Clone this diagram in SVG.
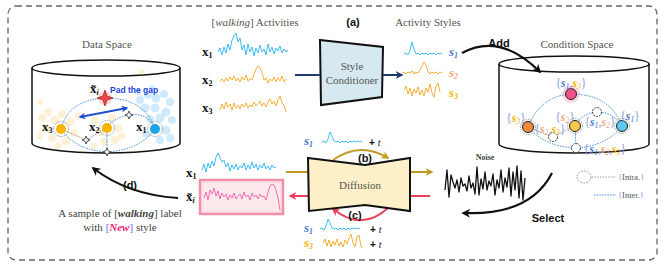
<svg xmlns="http://www.w3.org/2000/svg" width="665" height="267" viewBox="0 0 665 267">
<defs>
<style>
.frame{fill:none;stroke:#666;stroke-width:1.3;stroke-dasharray:6 4}
.cyl{fill:none;stroke:#111;stroke-width:1.5}
.ttl{font-family:"Liberation Serif",serif;font-size:11px;fill:#555}
.bx{font-family:"Liberation Serif",serif;font-size:13px;font-weight:bold;fill:#111}
.sub{font-size:8px}
.sa{font-family:"Liberation Sans",Arial,sans-serif;font-weight:bold;fill:#111}
.sl{font-family:"Liberation Serif",serif;font-style:italic;font-weight:bold;font-size:13px}
.cl{font-family:"Liberation Serif",serif;font-style:italic;font-size:11.5px}
.br{fill:#8a9be0;font-style:normal;font-weight:normal}
.c1{fill:#4a7bd0}.c2{fill:#f4a582}.c3{fill:#f5b300}
.sig{fill:none;stroke-width:0.9;stroke-linejoin:round}
.inter{fill:none;stroke:#3a8be0;stroke-width:1;stroke-dasharray:1.5 1.2}
.intra{fill:none;stroke:#999;stroke-width:1;stroke-dasharray:1.5 1.2}
.ring{fill:none;stroke:#888;stroke-width:0.8;stroke-dasharray:1.5 1}
.wn{fill:#fff;stroke:#222;stroke-width:0.9;stroke-dasharray:2 1}
.yd{fill:#f8c040;opacity:0.22}
.bd{fill:#40b0f0;opacity:0.25}
.lg{font-family:"Liberation Serif",serif;font-size:8.5px;fill:#555}
</style>
<marker id="mk" viewBox="0 0 10 10" refX="8" refY="5" markerWidth="9" markerHeight="9" markerUnits="userSpaceOnUse" orient="auto"><path d="M0,0 L10,5 L0,10 L3,5 z" fill="#111"/></marker>
<marker id="mn" viewBox="0 0 10 10" refX="8" refY="5" markerWidth="8" markerHeight="8" markerUnits="userSpaceOnUse" orient="auto"><path d="M0,0 L10,5 L0,10 L3,5 z" fill="#1f3a6e"/></marker>
<marker id="mg" viewBox="0 0 10 10" refX="8" refY="5" markerWidth="8" markerHeight="8" markerUnits="userSpaceOnUse" orient="auto"><path d="M0,0 L10,5 L0,10 L3,5 z" fill="#c09a22"/></marker>
<marker id="mr" viewBox="0 0 10 10" refX="8" refY="5" markerWidth="8" markerHeight="8" markerUnits="userSpaceOnUse" orient="auto"><path d="M0,0 L10,5 L0,10 L3,5 z" fill="#e8405a"/></marker>
<marker id="mb" viewBox="0 0 10 10" refX="8" refY="5" markerWidth="7" markerHeight="7" markerUnits="userSpaceOnUse" orient="auto-start-reverse"><path d="M0,0 L10,5 L0,10 L3,5 z" fill="#1f4fd0"/></marker>
<path id="dm" d="M0,-4 L1.2,-1.2 L4,0 L1.2,1.2 L0,4 L-1.2,1.2 L-4,0 L-1.2,-1.2 Z" fill="#fff" stroke="#222" stroke-width="0.8"/>
</defs>

<rect class="frame" x="8" y="6" width="649" height="254" rx="8"/>

<!-- Data Space -->
<g id="data-space">
<text class="ttl" x="107" y="48" text-anchor="middle">Data Space</text>
<ellipse class="cyl" cx="106" cy="68" rx="74" ry="8"/>
<path class="cyl" d="M32,68 L32,143 A74,10 0 0 0 180,143 L180,68"/>
<g>
<circle class="yd" cx="42" cy="118" r="4"/><circle class="yd" cx="48" cy="112" r="4"/><circle class="yd" cx="55" cy="120" r="4.5"/><circle class="yd" cx="46" cy="128" r="4"/><circle class="yd" cx="52" cy="138" r="4"/><circle class="yd" cx="62" cy="114" r="4"/><circle class="yd" cx="70" cy="122" r="4.5"/><circle class="yd" cx="74" cy="133" r="4"/><circle class="yd" cx="66" cy="141" r="4"/><circle class="yd" cx="58" cy="146" r="3.5"/><circle class="yd" cx="78" cy="116" r="3.5"/><circle class="yd" cx="40" cy="136" r="3.5"/><circle class="yd" cx="40" cy="102" r="3"/>
<circle class="yd" cx="95" cy="120" r="4"/><circle class="yd" cx="100" cy="132" r="4"/><circle class="yd" cx="112" cy="118" r="4"/><circle class="yd" cx="118" cy="128" r="4"/><circle class="yd" cx="115" cy="140" r="4"/><circle class="yd" cx="104" cy="142" r="4"/><circle class="yd" cx="94" cy="146" r="3.5"/><circle class="yd" cx="122" cy="136" r="3.5"/><circle class="yd" cx="142" cy="72" r="3"/>
<circle class="bd" cx="140" cy="100" r="4"/><circle class="bd" cx="148" cy="95" r="4"/><circle class="bd" cx="156" cy="98" r="4.5"/><circle class="bd" cx="164" cy="94" r="4"/><circle class="bd" cx="170" cy="102" r="4"/><circle class="bd" cx="145" cy="108" r="4.5"/><circle class="bd" cx="155" cy="108" r="4.5"/><circle class="bd" cx="166" cy="112" r="4.5"/><circle class="bd" cx="172" cy="120" r="4"/><circle class="bd" cx="160" cy="118" r="4.5"/><circle class="bd" cx="150" cy="119" r="4"/><circle class="bd" cx="166" cy="130" r="4.5"/><circle class="bd" cx="170" cy="138" r="4"/><circle class="bd" cx="160" cy="140" r="4"/><circle class="bd" cx="146" cy="134" r="3.5"/><circle class="bd" cx="152" cy="88" r="3"/><circle class="bd" cx="138" cy="92" r="3"/>
</g>
</g>

<g id="data-edges">
<path class="inter" d="M61,129 Q68,100 105,98 Q145,98 155,129"/>
<path class="inter" d="M61,129 Q75,150 107,152 Q140,150 155,129"/>
<path class="inter" d="M107,128 Q113,118 129,115 Q148,112 155,129"/>
<path class="intra" d="M61,129 L86,140 L107,128"/>
<path class="inter" d="M107,128 L107,152"/>
<path d="M80,117 L127,108" stroke="#1f4fd0" stroke-width="1.8" fill="none" marker-start="url(#mb)" marker-end="url(#mb)"/>
</g>

<g id="x3-node"><circle class="ring" cx="61" cy="129" r="7.5"/><circle cx="61" cy="129" r="5" fill="#f8b500"/><text class="bx" x="42" y="131" font-size="11">x<tspan class="sub" dy="2">3</tspan></text></g>
<g id="x2-node"><circle class="ring" cx="107" cy="128" r="7.5"/><circle cx="107" cy="128" r="5" fill="#f8b500"/><text class="bx" x="89" y="131" font-size="11">x<tspan class="sub" dy="2">2</tspan></text></g>
<g id="x1-node"><circle class="ring" cx="155" cy="129" r="7.5"/><circle cx="155" cy="129" r="5" fill="#1aa3e8"/><text class="bx" x="136" y="131" font-size="11">x<tspan class="sub" dy="2">1</tspan></text></g>
<g id="xt-node"><circle cx="105" cy="98" r="7" fill="#f06060" opacity="0.25"/><path d="M105,90 L107,96 L113,98 L107,100 L105,106 L103,100 L97,98 L103,96 Z" fill="#ee4444" stroke="#a02020" stroke-width="0.7"/><text class="bx" x="90" y="93" font-size="11">x&#x303;<tspan class="sub" dy="2" font-style="italic">i</tspan></text><text class="sa" x="110" y="93" font-size="8.5" style="fill:#1f3fd8">Pad the gap</text></g>
<use href="#dm" x="129" y="115"/><use href="#dm" x="86" y="140"/><use href="#dm" x="107" y="152"/>

<!-- Activities -->
<g id="activities">
<text class="ttl" x="255" y="26" text-anchor="middle">[<tspan font-style="italic">walking</tspan>] Activities</text>
<text class="bx" x="202" y="56">x<tspan class="sub" dy="2">1</tspan></text>
<text class="bx" x="202" y="84">x<tspan class="sub" dy="2">2</tspan></text>
<text class="bx" x="202" y="112">x<tspan class="sub" dy="2">3</tspan></text>
<polyline class="sig" stroke="#29b6f0" points="218,52 220,48 222,55 224,47 226,53 228,44 230,50 232,40 234,36 236,33 238,42 240,38 242,50 244,45 246,55 248,44 250,52 252,47 254,56 256,48 258,53 260,45 262,52 264,49 266,55 268,44 270,52 272,47 274,54 276,48 278,51 280,46 282,53 284,49 286,52 288,50"/>
<polyline class="sig" stroke="#f5a623" points="220,81 222,79 224,82 226,78 228,81 230,77 232,80 234,76 236,81 238,78 240,82 242,77 244,80 246,75 248,81 250,79 252,80 254,74 256,69 258,66 260,68 262,73 264,80 266,78 268,83 270,79 272,81 274,77 276,82 278,78 280,81 282,76 284,82 286,79"/>
<polyline class="sig" stroke="#f5a623" points="220,110 222,104 224,109 226,102 228,107 230,104 232,110 234,103 236,108 238,105 240,109 242,104 244,107 246,103 248,108 250,105 252,107 254,102 256,106 258,104 260,101 262,106 264,103 266,107 268,102 270,99 272,104 274,101 276,106 278,100 280,96 282,103 284,105 286,112"/>
</g>

<g id="style-conditioner">
<text class="sa" x="353" y="26" font-size="11" text-anchor="middle">(a)</text>
<polygon points="320,40 383,47 382,97 321,105" fill="#d6e9f0" stroke="#111" stroke-width="2"/>
<text class="ttl" x="352" y="70" text-anchor="middle" font-size="10.5">Style</text>
<text class="ttl" x="352" y="84" text-anchor="middle" font-size="10.5">Conditioner</text>
</g>

<g id="activity-styles">
<text class="ttl" x="428" y="26" text-anchor="middle">Activity Styles</text>
<polyline class="sig" stroke="#29b6f0" points="404,54 406,53 408,55 410,51 412,42 414,49 416,54 418,53 420,55 422,53 424,54 426,53 428,55 430,53 432,54 434,53 436,55 438,53 440,54 442,53"/>
<polyline class="sig" stroke="#f5a623" points="402,73 404,72 406,74 408,72 410,73 412,71 414,74 416,72 418,73 420,70 422,66 424,62 426,65 428,72 430,74 432,72 434,73 436,72 438,74 440,72 442,73"/>
<polyline class="sig" stroke="#f5a623" points="404,90 406,86 408,94 410,88 412,96 414,89 416,93 418,87 420,95 422,90 424,96 426,88 428,92 430,84 432,93 434,97 436,86 438,83 440,92"/>
<text class="sl c1" x="449" y="56">s<tspan class="sub" dy="2">1</tspan></text>
<text class="sl c2" x="449" y="77">s<tspan class="sub" dy="2">2</tspan></text>
<text class="sl c3" x="449" y="97">s<tspan class="sub" dy="2">3</tspan></text>
</g>

<!-- Condition Space -->
<g id="condition-space">
<text class="ttl" x="577" y="48" text-anchor="middle">Condition Space</text>
<ellipse class="cyl" cx="574" cy="64" rx="75" ry="8"/>
<path class="cyl" d="M499,64 L499,144 A75,9 0 0 0 649,144 L649,64"/>
</g>

<g id="cond-edges">
<path class="inter" d="M528,127 Q540,96 571,94 Q610,94 622,126"/>
<path class="inter" d="M528,127 Q545,147 576,148 Q607,146 622,126"/>
<path class="inter" d="M575,126 Q582,113 597,112 Q613,112 622,126"/>
<path class="intra" d="M528,127 L553,137 L575,126"/>
<path class="inter" d="M575,126 L576,148"/>
</g>

<g id="node-s1s3"><circle cx="571" cy="94" r="9" fill="#f06090" opacity="0.25"/><circle cx="571" cy="94" r="5.5" fill="#f0508a" stroke="#222" stroke-width="1"/>
<text class="cl" x="571" y="87" text-anchor="middle"><tspan class="br">{</tspan><tspan class="c1" font-weight="bold">s</tspan><tspan class="c1 sub" dy="2">1</tspan><tspan class="br" dy="-2">,</tspan><tspan class="c3" font-weight="bold">s</tspan><tspan class="c3 sub" dy="2">3</tspan><tspan class="br" dy="-2">}</tspan></text></g>
<g id="node-s3"><circle class="ring" cx="528" cy="127" r="7.5"/><circle cx="528" cy="127" r="5.5" fill="#f08c3c" stroke="#222" stroke-width="1"/>
<text class="cl" x="516" y="122" text-anchor="middle"><tspan class="br">{</tspan><tspan class="c3" font-weight="bold">s</tspan><tspan class="c3 sub" dy="2">3</tspan><tspan class="br" dy="-2">}</tspan></text></g>
<g id="node-s2"><circle class="ring" cx="575" cy="126" r="7.5"/><circle cx="575" cy="126" r="5.5" fill="#f8c848" stroke="#222" stroke-width="1"/>
<text class="cl" x="565" y="121" text-anchor="middle"><tspan class="br">{</tspan><tspan class="c2" font-weight="bold">s</tspan><tspan class="c2 sub" dy="2">2</tspan><tspan class="br" dy="-2">}</tspan></text></g>
<g id="node-s1"><circle class="ring" cx="622" cy="126" r="7.5"/><circle cx="622" cy="126" r="5.5" fill="#5bc8f0" stroke="#222" stroke-width="1"/>
<text class="cl" x="630" y="120" text-anchor="middle"><tspan class="br">{</tspan><tspan class="c1" font-weight="bold">s</tspan><tspan class="c1 sub" dy="2">1</tspan><tspan class="br" dy="-2">}</tspan></text></g>
<g id="node-s1s2"><circle class="wn" cx="597" cy="112" r="4.5"/>
<text class="cl" x="600" y="126" text-anchor="middle"><tspan class="br">{</tspan><tspan class="c1" font-weight="bold">s</tspan><tspan class="c1 sub" dy="2">1</tspan><tspan class="br" dy="-2">,</tspan><tspan class="c2" font-weight="bold">s</tspan><tspan class="c2 sub" dy="2">2</tspan><tspan class="br" dy="-2">}</tspan></text></g>
<g id="node-s2s3"><circle class="wn" cx="553" cy="137" r="4.5"/>
<text class="cl" x="550" y="133" text-anchor="middle"><tspan class="br">{</tspan><tspan class="c2" font-weight="bold">s</tspan><tspan class="c2 sub" dy="2">2</tspan><tspan class="br" dy="-2">,</tspan><tspan class="c3" font-weight="bold">s</tspan><tspan class="c3 sub" dy="2">3</tspan><tspan class="br" dy="-2">}</tspan></text></g>
<g id="node-s1s2s3"><circle class="wn" cx="576" cy="148" r="4.5"/>
<text class="cl" x="605" y="153" text-anchor="middle"><tspan class="br">{</tspan><tspan class="c1" font-weight="bold">s</tspan><tspan class="c1 sub" dy="2">1</tspan><tspan class="br" dy="-2">,</tspan><tspan class="c2" font-weight="bold">s</tspan><tspan class="c2 sub" dy="2">2</tspan><tspan class="br" dy="-2">,</tspan><tspan class="c3" font-weight="bold">s</tspan><tspan class="c3 sub" dy="2">3</tspan><tspan class="br" dy="-2">}</tspan></text></g>

<g id="legend">
<ellipse cx="584" cy="177" rx="7" ry="6" fill="none" stroke="#999" stroke-width="0.9" stroke-dasharray="2 1"/>
<line class="intra" x1="592" y1="177" x2="616" y2="177"/>
<text class="lg" x="618" y="180"><tspan class="br">{</tspan>Intra.<tspan class="br">}</tspan></text>
<line class="inter" x1="594" y1="195" x2="616" y2="195"/>
<text class="lg" x="618" y="198"><tspan class="br">{</tspan>Inter.<tspan class="br">}</tspan></text>
</g>

<!-- Connectors -->
<g id="connectors">
<path d="M295,75 L320,75" stroke="#1f3a6e" stroke-width="2" fill="none"/>
<path d="M383,75 L402,75" stroke="#1f3a6e" stroke-width="2" fill="none" marker-end="url(#mn)"/>
<path d="M462,53 Q500,32 540,72" stroke="#111" stroke-width="2.2" fill="none" marker-end="url(#mk)"/>
<path d="M552,173 Q530,216 463,213" stroke="#111" stroke-width="2.2" fill="none" marker-end="url(#mk)"/>
<path d="M178,198 Q128,195 93,168" stroke="#111" stroke-width="2.2" fill="none" marker-end="url(#mk)"/>
<path d="M286,172 L432,172" stroke="#c09a22" stroke-width="1.8" fill="none" marker-end="url(#mg)"/>
<path d="M430,196 L290,196" stroke="#e8405a" stroke-width="1.8" fill="none" marker-end="url(#mr)"/>
<path d="M333,160 Q360,141 388,158" stroke="#c09a22" stroke-width="1.8" fill="none" marker-end="url(#mg)"/>
<path d="M388,208 Q362,232 333,209" stroke="#e8405a" stroke-width="1.8" fill="none" marker-end="url(#mr)"/>
</g>

<g id="diffusion">
<path d="M308,158 L365,165 L410,158 L410,211 L365,205 L309,211 Z" fill="#fdf0c8" stroke="#111" stroke-width="2"/>
<text class="ttl" x="360" y="189" text-anchor="middle" font-size="10.5">Diffusion</text>
<text class="sa" x="365" y="162" font-size="11" text-anchor="middle">(b)</text>
<text class="sa" x="355" y="219" font-size="11" text-anchor="middle">(c)</text>
</g>

<g id="cond-top">
<text class="sl c1" x="304" y="145">s<tspan class="sub" dy="2">1</tspan></text>
<polyline class="sig" stroke="#29b6f0" points="322,142 324,141 326,143 328,139 330,132 332,136 334,141 336,142 338,141 340,143 342,141 344,142 346,141 348,143 350,141 352,142 354,141 356,142 358,141 360,142 362,141"/>
<text class="sa" x="369" y="146" font-size="10">+ <tspan font-family="Liberation Serif,serif" font-style="italic" font-weight="normal">t</tspan></text>
</g>
<g id="cond-bottom">
<text class="sl c1" x="304" y="232">s<tspan class="sub" dy="2">1</tspan></text>
<polyline class="sig" stroke="#29b6f0" points="320,229 322,228 324,230 326,226 328,219 330,223 332,228 334,229 336,228 338,230 340,228 342,229 344,228 346,230 348,228 350,229 352,228 354,229 356,228 358,229 360,228"/>
<text class="sa" x="370" y="233" font-size="10">+ <tspan font-family="Liberation Serif,serif" font-style="italic" font-weight="normal">t</tspan></text>
<text class="sl c3" x="304" y="247">s<tspan class="sub" dy="2">3</tspan></text>
<polyline class="sig" stroke="#f5a623" points="323,243 325,239 327,246 329,240 331,247 333,241 335,245 337,239 339,246 341,242 343,247 345,240 347,244 349,238 351,234 353,243 355,247 357,237 359,235 361,246 362,248"/>
<text class="sa" x="370" y="248" font-size="10">+ <tspan font-family="Liberation Serif,serif" font-style="italic" font-weight="normal">t</tspan></text>
</g>

<g id="x1-input">
<text class="bx" x="186" y="177">x<tspan class="sub" dy="2">1</tspan></text>
<polyline class="sig" stroke="#29b6f0" points="202,170 204,164 206,172 208,163 210,168 212,161 214,166 216,157 218,153 220,158 222,162 224,160 226,167 228,163 230,171 232,165 234,169 236,164 238,170 240,166 242,168 244,163 246,170 248,165 250,169 252,162 254,168 256,164 258,170 260,165 262,168 264,163 266,169 268,166 270,170 272,165 274,168 276,167"/>
</g>
<g id="xt-output">
<text class="bx" x="186" y="201">x&#x303;<tspan class="sub" dy="2" font-style="italic">i</tspan></text>
<rect x="200" y="180" width="83" height="34" fill="#fde8ec" stroke="#f090a8" stroke-width="2.5"/>
<rect x="202" y="182" width="79" height="30" fill="none" stroke="#fbd0da" stroke-width="0.8"/>
<polyline class="sig" stroke="#f060a8" points="204,198 206,192 208,200 210,190 212,194 214,188 216,196 218,191 220,199 222,193 224,197 226,194 228,200 230,195 232,198 234,193 236,199 238,196 240,194 242,199 244,192 246,197 248,195 250,200 252,193 254,197 256,195 258,199 260,194 262,197 264,196 266,200 268,192 270,186 272,184 274,185 276,190 278,198 280,210"/>
</g>

<g id="noise">
<text x="485" y="160" text-anchor="middle" font-family="Liberation Serif,serif" font-weight="bold" font-size="8" fill="#444">Noise</text>
<polyline fill="none" stroke="#111" stroke-width="1.3" stroke-linejoin="round" points="445,190 447,170 449,197 451,175 453,182 455,188 457,180 459,192 461,178 463,186 465,184 467,191 469,176 471,188 473,183 475,194 477,167 479,195 481,179 483,189 485,172 487,190 489,181 491,186 493,174 495,195 497,180 499,188 501,170 503,192 505,178 507,187 509,168 511,196 513,172 515,190 517,166 519,198 521,171 523,200 525,178"/>
</g>

<g id="labels">
<text class="sa" x="499" y="47" font-size="11" text-anchor="middle">Add</text>
<text class="sa" x="548" y="222" font-size="11" text-anchor="middle">Select</text>
<text class="sa" x="130" y="189" font-size="11" text-anchor="middle">(d)</text>
<text class="ttl" x="120" y="217" text-anchor="middle" font-size="10.5" style="fill:#444">A sample of [<tspan font-style="italic" font-weight="bold">walking</tspan>] label</text>
<text class="ttl" x="120" y="231" text-anchor="middle" font-size="10.5" style="fill:#444">with <tspan style="fill:#7b68ee">[</tspan><tspan font-style="italic" font-weight="bold" style="fill:#e8207a">New</tspan><tspan style="fill:#7b68ee">]</tspan> style</text>
</g>
</svg>
